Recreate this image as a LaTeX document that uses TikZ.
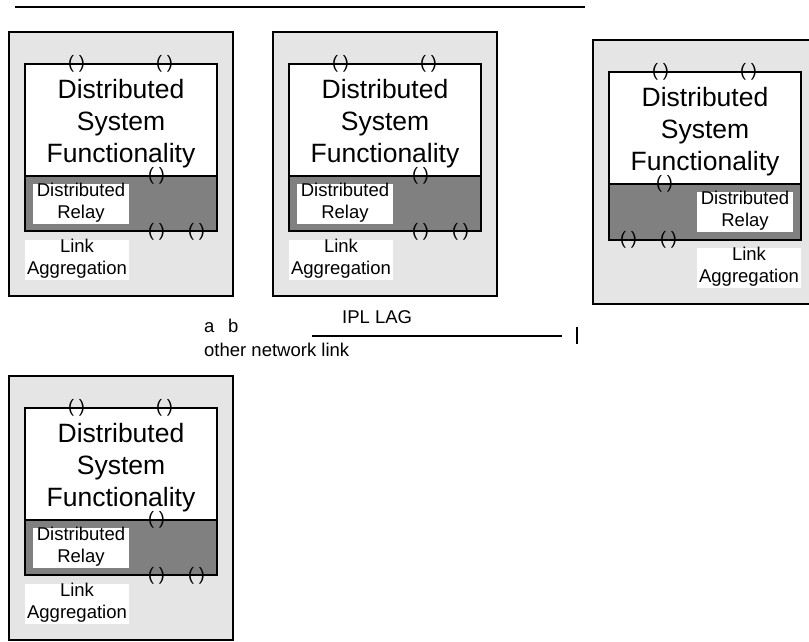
\documentclass[tikz,border=0pt]{standalone}
\usepackage{fontspec}
\setmainfont{Liberation Sans}
\definecolor{outerfill}{HTML}{E5E5E5}
\definecolor{relayfill}{HTML}{808080}
\newcommand{\bigfont}{\fontsize{26.5}{32.3}\selectfont}
\newcommand{\smallfont}{\fontsize{18.5}{21.5}\selectfont}
\newcommand{\parenfont}{\fontsize{18}{18}\selectfont}
\tikzset{
  x=1pt,y=-1pt,
  outerbox/.style={draw=black,line width=1.5pt,fill=outerfill},
  funcbox/.style={draw=black,line width=1.5pt,fill=white},
  relaybox/.style={draw=black,line width=1.5pt,fill=relayfill},
  whitepatch/.style={fill=white,draw=none},
  bigtext/.style={font=\bigfont,align=center,inner sep=0pt,anchor=center},
  smalltext/.style={font=\smallfont,align=center,inner sep=0pt,anchor=center},
  plaintext/.style={font=\smallfont,inner sep=0pt,anchor=base west},
  port/.style={font=\parenfont,inner sep=0pt,anchor=center},
  rule/.style={draw=black,line width=1.5pt},
}
% #1 horizontal shift, #2 vertical shift
\newcommand{\dsleft}[2]{%
  \begin{scope}[shift={(#1,#2)}]
    \path[outerbox] (9,32) rectangle (233,296);
    \path[funcbox] (25,64) rectangle (217,176);
    \path[relaybox] (25,176) rectangle (217,231);
    \path[whitepatch] (33,184) rectangle (129,224);
    \path[whitepatch] (25,240) rectangle (129,280);
    \node[bigtext] at (121,123.5) {Distributed\\System\\Functionality};
    \node[smalltext] at (81,202.5) {Distributed\\Relay};
    \node[smalltext] at (77,258.5) {Link\\Aggregation};
    \node[port] at (76.5,63.5) {( )};
    \node[port] at (164.5,63.5) {( )};
    \node[port] at (156.5,175.5) {( )};
    \node[port] at (156.5,231.5) {( )};
    \node[port] at (196.5,231.5) {( )};
  \end{scope}}
\begin{document}
\begin{tikzpicture}
\useasboundingbox (0,0) rectangle (809,641);
\clip (0,0) rectangle (809,641);
\draw[rule] (15,7) -- (585,7);
\dsleft{0}{0}
\dsleft{264}{0}
\dsleft{0}{344}
\begin{scope}[shift={(584,8)}]
  \path[outerbox] (9,32) rectangle (233,296);
  \path[funcbox] (25,64) rectangle (217,176);
  \path[relaybox] (25,176) rectangle (217,232);
  \path[whitepatch] (113,184) rectangle (209,224);
  \path[whitepatch] (113,240) rectangle (217,280);
  \node[bigtext] at (121,123.5) {Distributed\\System\\Functionality};
  \node[smalltext] at (161,202.5) {Distributed\\Relay};
  \node[smalltext] at (165,258.5) {Link\\Aggregation};
  \node[port] at (76.5,63.5) {( )};
  \node[port] at (164.5,63.5) {( )};
  \node[port] at (80.5,175.5) {( )};
  \node[port] at (44.5,231.5) {( )};
  \node[port] at (84.5,231.5) {( )};
\end{scope}
\node[plaintext] at (204,332) {a};
\node[plaintext] at (228,332) {b};
\node[plaintext] at (204,356) {other network link};
\node[plaintext] at (342,323) {IPL LAG};
\coordinate (iplA) at (312,336);
\coordinate (iplB) at (562,336);
\coordinate (tickA) at (577,327);
\coordinate (tickB) at (577,344);
\draw[rule] (iplA) -- (iplB);
\draw[rule] (tickA) -- (tickB);
\end{tikzpicture}
\end{document}
